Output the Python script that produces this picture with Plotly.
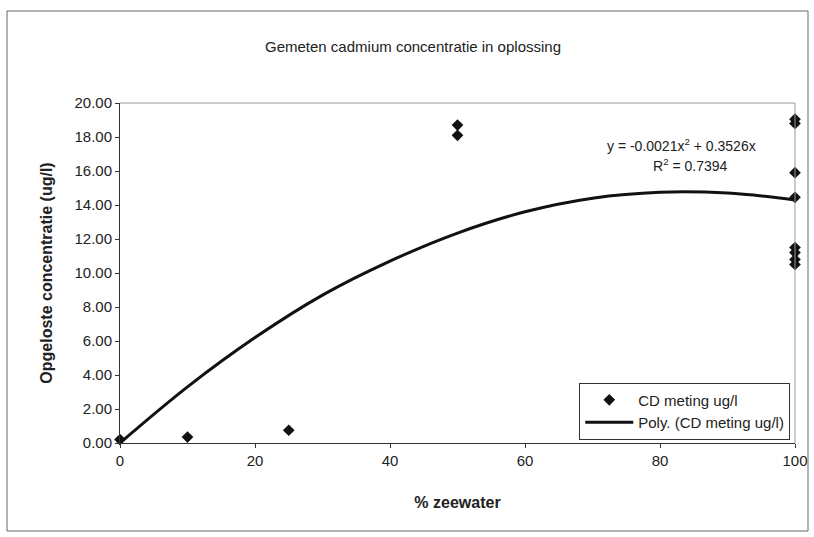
import plotly.graph_objects as go

# Measured data
meas_x = [0, 10, 25, 50, 50, 100, 100, 100, 100, 100, 100, 100, 100]
meas_y = [0.2, 0.35, 0.75, 18.7, 18.1, 19.05, 18.8, 15.9, 14.45, 11.5, 11.2, 10.8, 10.5]

# Polynomial trendline
trend_x = [0, 10, 20, 30, 40, 50, 60, 70, 80, 90, 100]
trend_y = [0.0, 3.3, 6.2, 8.7, 10.7, 12.35, 13.6, 14.4, 14.75, 14.7, 14.3]

x_ticks = [0, 20, 40, 60, 80, 100]
y_ticks = [0, 2, 4, 6, 8, 10, 12, 14, 16, 18, 20]

FONT = "Liberation Sans, Arial, sans-serif"
TXT = "#222222"
ML, MR, MT, MB = 120, 19, 103, 94
PW = 814 - ML - MR  # plot area width in px
PH = 537 - MT - MB  # plot area height in px

fig = go.Figure()
fig.add_trace(go.Scatter(
    x=meas_x, y=meas_y, mode="markers", name="CD meting ug/l",
    marker=dict(symbol="diamond", size=9, color="#111111"),
    cliponaxis=False,
))
fig.add_trace(go.Scatter(
    x=trend_x, y=trend_y, mode="lines", name="Poly. (CD meting ug/l)",
    line=dict(color="#111111", width=3, shape="spline"),
    cliponaxis=False,
))

fig.update_layout(
    width=814, height=537,
    margin=dict(l=ML, r=MR, t=MT, b=MB, autoexpand=False),
    paper_bgcolor="white", plot_bgcolor="white",
    font=dict(family=FONT, size=15, color=TXT),
    showlegend=True,
    legend=dict(
        x=0.993, y=0.01, xanchor="right", yanchor="bottom",
        bgcolor="white", bordercolor="#333333", borderwidth=1,
        font=dict(family=FONT, size=15, color=TXT),
        itemwidth=48, tracegroupgap=2,
    ),
    xaxis=dict(
        range=[0, 100], tickvals=x_ticks, ticktext=[str(v) for v in x_ticks],
        showgrid=False, zeroline=False, automargin=False,
        showline=True, linecolor="#333333", linewidth=1,
        ticks="outside", ticklen=4, tickcolor="#333333",
        tickfont=dict(family=FONT, size=15, color=TXT),
        title=dict(text="<b>% zeewater</b>", font=dict(family=FONT, size=16, color=TXT), standoff=28),
    ),
    yaxis=dict(
        range=[0, 20], tickvals=y_ticks, tickformat=".2f",
        showgrid=False, zeroline=False, automargin=False,
        showline=True, linecolor="#333333", linewidth=1,
        ticks="outside", ticklen=4, tickcolor="#333333",
        tickfont=dict(family=FONT, size=15, color=TXT),
        title=dict(text="<b>Opgeloste concentratie (ug/l)</b>", font=dict(family=FONT, size=16, color=TXT), standoff=17),
    ),
)

# top and right frame of plot area (grey)
fig.add_shape(type="line", xref="paper", yref="paper", x0=0, x1=1, y0=1, y1=1,
              line=dict(color="#999999", width=1))
fig.add_shape(type="line", xref="paper", yref="paper", x0=1, x1=1, y0=0, y1=1,
              line=dict(color="#999999", width=1))
# outer chart border
fig.add_shape(type="rect", xref="paper", yref="paper",
              x0=(7 - ML) / PW, x1=(808 - ML) / PW,
              y0=(443 - 531) / PH, y1=(443 - 11) / PH,
              line=dict(color="#666666", width=1))

# title
fig.add_annotation(text="Gemeten cadmium concentratie in oplossing",
                   xref="paper", yref="paper", x=(413 - ML) / PW, y=(443 - 47) / PH,
                   xanchor="center", yanchor="middle",
                   showarrow=False, font=dict(family=FONT, size=15, color=TXT))
# trendline equation
fig.add_annotation(text="y = -0.0021x<sup>2</sup> + 0.3526x",
                   xref="paper", yref="paper", x=(681 - ML) / PW, y=(443 - 145) / PH,
                   xanchor="center", yanchor="middle",
                   showarrow=False, font=dict(family=FONT, size=14, color=TXT))
fig.add_annotation(text="R<sup>2</sup> = 0.7394",
                   xref="paper", yref="paper", x=(690 - ML) / PW, y=(443 - 165) / PH,
                   xanchor="center", yanchor="middle",
                   showarrow=False, font=dict(family=FONT, size=14, color=TXT))

fig.write_html("out.html")
